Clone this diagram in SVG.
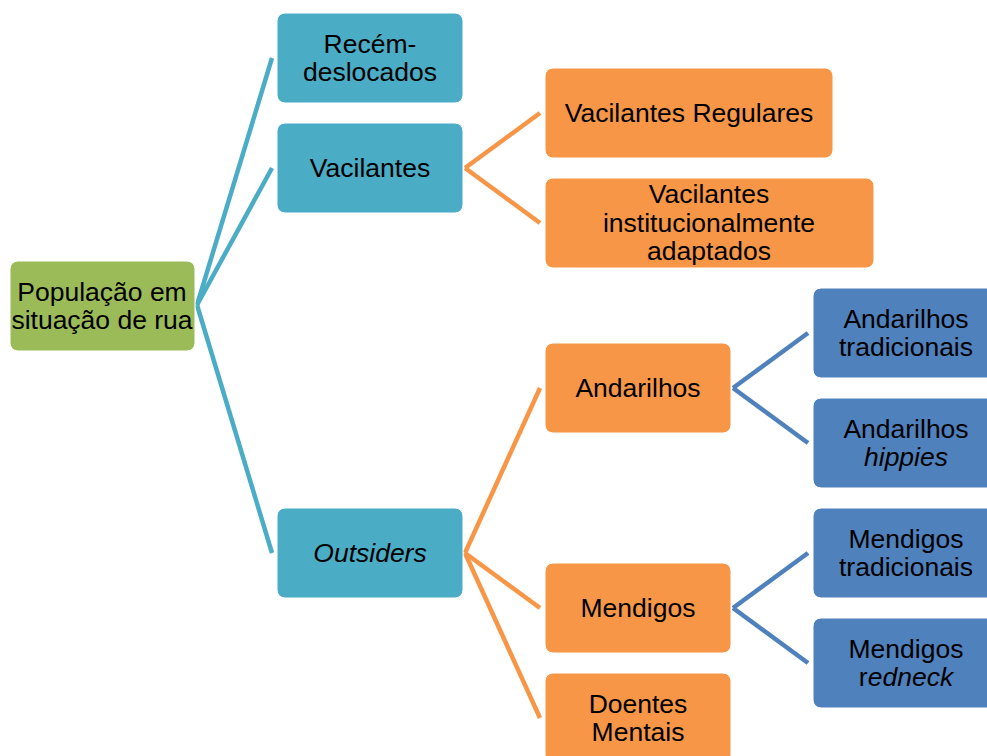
<svg xmlns="http://www.w3.org/2000/svg" width="987" height="756" viewBox="0 0 987 756">
<style>
.box{stroke:#ffffff;stroke-width:1}
.g{fill:#9BBB59}
.t{fill:#4BACC6}
.o{fill:#F79646}
.b{fill:#4F81BD}
text{font-family:"Liberation Sans",Arial,sans-serif;font-size:26.5px;fill:#000;text-anchor:middle}
.it{font-style:italic}
.ct{stroke:#4BACC6;stroke-width:4.5;fill:none}
.co{stroke:#F79646;stroke-width:4.5;fill:none}
.cb{stroke:#4F81BD;stroke-width:4.5;fill:none}
</style>
<rect width="987" height="756" fill="#ffffff"/>
<g id="connectors">
<line class="ct" x1="197" y1="305" x2="272" y2="58"/>
<line class="ct" x1="197" y1="305" x2="272" y2="168"/>
<line class="ct" x1="197" y1="305" x2="272" y2="553"/>
<line class="co" x1="465" y1="168" x2="540" y2="113"/>
<line class="co" x1="465" y1="168" x2="540" y2="223"/>
<line class="co" x1="465" y1="553" x2="540" y2="388"/>
<line class="co" x1="465" y1="553" x2="540" y2="608"/>
<line class="co" x1="465" y1="553" x2="540" y2="718"/>
<line class="cb" x1="733" y1="388" x2="808" y2="333"/>
<line class="cb" x1="733" y1="388" x2="808" y2="443"/>
<line class="cb" x1="733" y1="608" x2="808" y2="553"/>
<line class="cb" x1="733" y1="608" x2="808" y2="663"/>
</g>
<g id="root">
<rect class="box g" x="10" y="261" width="185" height="90" rx="8"/>
<text x="102" y="301">População em</text>
<text x="102" y="329">situação de rua</text>
</g>
<g id="recem">
<rect class="box t" x="277" y="13" width="186" height="90" rx="8"/>
<text x="370" y="53">Recém-</text>
<text x="370" y="81">deslocados</text>
</g>
<g id="vacilantes">
<rect class="box t" x="277" y="123" width="186" height="90" rx="8"/>
<text x="370" y="177">Vacilantes</text>
</g>
<g id="outsiders">
<rect class="box t" x="277" y="508" width="186" height="90" rx="8"/>
<text x="370" y="562" class="it">Outsiders</text>
</g>
<g id="vac-regulares">
<rect class="box o" x="545" y="68" width="288" height="90" rx="8"/>
<text x="689" y="122">Vacilantes Regulares</text>
</g>
<g id="vac-inst">
<rect class="box o" x="545" y="178" width="329" height="90" rx="8"/>
<text x="709" y="203">Vacilantes</text>
<text x="709" y="232">institucionalmente</text>
<text x="709" y="260">adaptados</text>
</g>
<g id="andarilhos">
<rect class="box o" x="545" y="343" width="186" height="90" rx="8"/>
<text x="638" y="397">Andarilhos</text>
</g>
<g id="mendigos">
<rect class="box o" x="545" y="563" width="186" height="90" rx="8"/>
<text x="638" y="617">Mendigos</text>
</g>
<g id="doentes">
<rect class="box o" x="545" y="673" width="186" height="90" rx="8"/>
<text x="638" y="713">Doentes</text>
<text x="638" y="741">Mentais</text>
</g>
<g id="and-trad">
<rect class="box b" x="813" y="288" width="186" height="90" rx="8"/>
<text x="906" y="328">Andarilhos</text>
<text x="906" y="356">tradicionais</text>
</g>
<g id="and-hippies">
<rect class="box b" x="813" y="398" width="186" height="90" rx="8"/>
<text x="906" y="438">Andarilhos</text>
<text x="906" y="466" class="it">hippies</text>
</g>
<g id="men-trad">
<rect class="box b" x="813" y="508" width="186" height="90" rx="8"/>
<text x="906" y="548">Mendigos</text>
<text x="906" y="576">tradicionais</text>
</g>
<g id="men-redneck">
<rect class="box b" x="813" y="618" width="186" height="90" rx="8"/>
<text x="906" y="658">Mendigos</text>
<text x="906" y="686">r<tspan class="it">edneck</tspan></text>
</g>
</svg>
